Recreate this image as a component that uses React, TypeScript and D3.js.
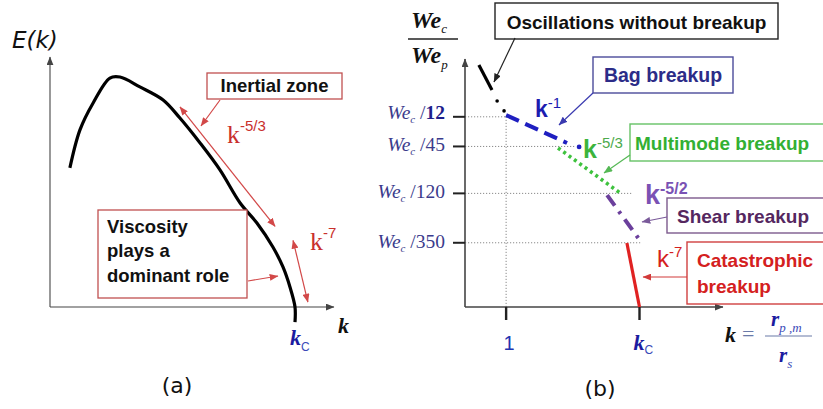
import React from "react";
import * as d3 from "d3";

// ---------- Panel (a): turbulent kinetic energy spectrum E(k), schematic units ----------
const spectrumK = [0.071, 0.107, 0.154, 0.214, 0.25, 0.321, 0.404, 0.464, 0.536, 0.607, 0.679, 0.739, 0.796, 0.832, 0.857, 0.875, 0.875];
const spectrumE = [0.563, 0.717, 0.826, 0.927, 0.931, 0.891, 0.838, 0.765, 0.664, 0.555, 0.421, 0.34, 0.243, 0.162, 0.081, 0.0, -0.061];

// ---------- Panel (b): breakup regimes versus k = r_p,m / r_s ----------
const regimeNames = ["Oscillations without breakup", "Bag breakup", "Multimode breakup", "Shear breakup", "Catastrophic breakup"];
const regimeExponents = ["", "-1", "-5/3", "-5/2", "-7"];
const regimeK0 = [0.054, 0.16, 0.362, 0.553, 0.63];
const regimeK1 = [0.105, 0.397, 0.603, 0.677, 0.679];
const regimeW0 = [0.98, 0.777, 0.644, 0.453, 0.259];
const regimeW1 = [0.879, 0.664, 0.462, 0.275, 0.0];
const transitionDotK = [0.125, 0.152];
const transitionDotW = [0.834, 0.794];
const bagEndDot = [0.444, 0.648];
const weberDivisors = ["12", "45", "120", "350"];
const weberLevels = [0.77, 0.65, 0.46, 0.26];
const kTickValues = [0.16, 0.679];
const kTickLabels = ["1", "kC"];

const SANS = "'Liberation Sans', Arial, sans-serif";
const WIDE = "'DejaVu Sans', Verdana, sans-serif";
const SERIF = "'Liberation Serif', 'Times New Roman', serif";

const RED = "#c9302c";
const RED_LINE = "#d24848";
const GREEN = "#3cb43c";
const PURPLE = "#6b3f9c";

type Pt = [number, number];

function Arrow({ from, to, color, both = false, width = 1.2 }: { from: Pt; to: Pt; color: string; both?: boolean; width?: number }) {
  const id = "ah-" + color.replace("#", "");
  return (
    <line
      x1={from[0]}
      y1={from[1]}
      x2={to[0]}
      y2={to[1]}
      stroke={color}
      strokeWidth={width}
      markerEnd={`url(#${id})`}
      markerStart={both ? `url(#${id})` : undefined}
    />
  );
}

const markerColors = ["#444444", RED_LINE, "#222222", "#3a3ab0", "#55b855", "#7a5a9a", "#d23a3a"];

export default function App() {
  // panel (a) scales
  const xA = d3.scaleLinear().domain([0, 1]).range([50, 330]);
  const yA = d3.scaleLinear().domain([0, 1]).range([307, 60]);
  const spectrum = spectrumK.map((k, i) => [k, spectrumE[i]] as Pt);
  const spectrumPath = d3
    .line<Pt>()
    .x((d) => xA(d[0]))
    .y((d) => yA(d[1]))
    .curve(d3.curveCatmullRom)(spectrum) as string;

  // panel (b) scales
  const xB = d3.scaleLinear().domain([0, 1]).range([465, 722]);
  const yB = d3.scaleLinear().domain([0, 1]).range([307, 60]);
  const seg = (i: number) => ({ x1: xB(regimeK0[i]), y1: yB(regimeW0[i]), x2: xB(regimeK1[i]), y2: yB(regimeW1[i]) });

  const gridX1 = kTickValues[0];
  const gridRightK = [regimeK0[1], regimeK1[1] + 0.03, regimeK1[2] + 0.05, regimeK1[3] + 0.01];

  return (
    <svg width={823} height={409} viewBox="0 0 823 409" style={{ position: "absolute", left: 0, top: 0, background: "#fff" }}>
      <defs>
        {markerColors.map((c) => (
          <marker
            key={c}
            id={"ah-" + c.replace("#", "")}
            viewBox="0 0 10 8"
            refX={9.5}
            refY={4}
            markerWidth={9}
            markerHeight={7}
            markerUnits="userSpaceOnUse"
            orient="auto-start-reverse"
          >
            <path d="M0,0 L10,4 L0,8 Z" fill={c} />
          </marker>
        ))}
      </defs>

      {/* ================= Panel (a) ================= */}
      <g>
        <Arrow from={[xA(0), yA(0)]} to={[xA(0), 57]} color="#444444" width={1.1} />
        <Arrow from={[xA(0), yA(0)]} to={[334, yA(0)]} color="#444444" width={1.1} />
        <text x={12} y={48} fontFamily={WIDE} fontStyle="italic" fontSize={23} fill="#111">
          E(k)
        </text>
        <text x={338} y={333} fontFamily={SERIF} fontStyle="italic" fontWeight="bold" fontSize={22} fill="#111">
          k
        </text>
        <text x={290} y={345} fontFamily={SERIF} fontStyle="italic" fontWeight="bold" fontSize={22} fill="#1c1ca0">
          k
          <tspan dy={6} fontFamily={SANS} fontStyle="normal" fontWeight="normal" fontSize={12} fill="#3a4ab8">
            C
          </tspan>
        </text>

        <path d={spectrumPath} fill="none" stroke="#000" strokeWidth={3.2} strokeLinejoin="round" />

        {/* inertial range annotation */}
        <rect x={207} y={73} width={135} height={26} fill="#fff" stroke="#c05050" strokeWidth={1.3} />
        <text x={274.5} y={92} textAnchor="middle" fontFamily={SANS} fontWeight="bold" fontSize={18.5} fill="#111">
          Inertial zone
        </text>
        <Arrow from={[220, 100]} to={[201, 126]} color={RED_LINE} />
        <Arrow from={[xA(0.464), yA(0.81)]} to={[xA(0.804), yA(0.326)]} color={RED_LINE} both />
        <text x={227} y={143} fontFamily={SERIF} fontSize={26} fill={RED}>
          k
          <tspan dy={-12} fontFamily={SANS} fontSize={15}>
            -5/3
          </tspan>
        </text>

        {/* viscous range annotation */}
        <rect x={98} y={210} width={149} height={88} fill="#fff" stroke="#c05050" strokeWidth={1.3} />
        <text fontFamily={SANS} fontWeight="bold" fontSize={18.5} fill="#111">
          <tspan x={107} y={233}>Viscosity</tspan>
          <tspan x={107} y={257}>plays a</tspan>
          <tspan x={107} y={282}>dominant role</tspan>
        </text>
        <Arrow from={[248, 281]} to={[278, 276]} color={RED_LINE} />
        <Arrow from={[xA(0.868), yA(0.27)]} to={[xA(0.921), yA(0.02)]} color={RED_LINE} both />
        <text x={310} y={250} fontFamily={SERIF} fontSize={26} fill={RED}>
          k
          <tspan dy={-12} fontFamily={SANS} fontSize={15}>
            -7
          </tspan>
        </text>

        <text x={177} y={393} textAnchor="middle" fontFamily={WIDE} fontSize={22} fill="#111">
          (a)
        </text>
      </g>

      {/* ================= Panel (b) ================= */}
      <g>
        {/* dotted guide lines */}
        {weberLevels.map((w, i) => (
          <line
            key={"gh" + i}
            x1={xB(0)}
            x2={xB(gridRightK[i])}
            y1={yB(w)}
            y2={yB(w)}
            stroke="#8a8a8a"
            strokeWidth={1}
            strokeDasharray="1.2 1.8"
          />
        ))}
        <line x1={xB(gridX1)} x2={xB(gridX1)} y1={yB(weberLevels[0])} y2={yB(0)} stroke="#8a8a8a" strokeWidth={1} strokeDasharray="1.2 1.8" />

        {/* axes */}
        <Arrow from={[xB(0), yB(0)]} to={[xB(0), 59]} color="#444444" width={1.6} />
        <Arrow from={[xB(0), yB(0)]} to={[723, yB(0)]} color="#444444" width={1.6} />

        {/* y ticks */}
        {weberLevels.map((w, i) => (
          <g key={"yt" + i}>
            <line x1={xB(0) - 12} x2={xB(0)} y1={yB(w)} y2={yB(w)} stroke="#222" strokeWidth={2} />
            <text x={xB(0) - 20} y={yB(w) + (i === 0 ? 2 : 5)} textAnchor="end" fontFamily={SERIF} fontSize={19.5} fill="#3b3b8c">
              <tspan fontStyle="italic">We</tspan>
              <tspan dy={4} fontStyle="italic" fontSize={11}>c</tspan>
              <tspan dy={-4}> /</tspan>
              <tspan fontWeight={i === 0 ? "bold" : "normal"} fill={i === 0 ? "#1e1e8c" : "#3b3b8c"}>
                {weberDivisors[i]}
              </tspan>
            </text>
          </g>
        ))}

        {/* x ticks */}
        {kTickValues.map((k, i) => (
          <g key={"xt" + i}>
            <line x1={xB(k)} x2={xB(k)} y1={yB(0)} y2={yB(0) + 13} stroke="#222" strokeWidth={2.4} />
            {kTickLabels[i] === "1" ? (
              <text x={xB(k) + 3} y={350} textAnchor="middle" fontFamily={SANS} fontSize={20} fill="#2233b0">
                1
              </text>
            ) : (
              <text x={xB(k) - 6} y={350} fontFamily={SERIF} fontStyle="italic" fontWeight="bold" fontSize={22} fill="#1c1ca0">
                k
                <tspan dy={4} fontFamily={SANS} fontStyle="normal" fontWeight="normal" fontSize={12} fill="#3a4ab8">
                  C
                </tspan>
              </text>
            )}
          </g>
        ))}

        {/* y axis title We_c / We_p */}
        <text x={411} y={28} fontFamily={SERIF} fontStyle="italic" fontWeight="bold" fontSize={24} fill="#111">
          We
          <tspan dy={5} fontSize={13} fontWeight="normal">c</tspan>
        </text>
        <line x1={408} x2={458} y1={39} y2={39} stroke="#222" strokeWidth={1.4} />
        <text x={411} y={63} fontFamily={SERIF} fontStyle="italic" fontWeight="bold" fontSize={24} fill="#111">
          We
          <tspan dy={6} fontSize={13} fontWeight="normal">p</tspan>
        </text>

        {/* x axis title k = r_p,m / r_s */}
        <text x={725} y={342} fontFamily={SERIF} fontStyle="italic" fontWeight="bold" fontSize={22} fill="#111">
          k
        </text>
        <text x={742} y={341} fontFamily={SERIF} fontSize={22} fill="#6a7aa8">
          =
        </text>
        <text x={771} y={326} fontFamily={SERIF} fontStyle="italic" fontWeight="bold" fontSize={21} fill="#1c1ca0">
          r
          <tspan dy={6} fontSize={13} fontWeight="normal" fill="#3a4ab8">p ,m</tspan>
        </text>
        <line x1={765} x2={812} y1={336} y2={336} stroke="#6a7aa8" strokeWidth={1.2} />
        <text x={779} y={362} fontFamily={SERIF} fontStyle="italic" fontWeight="bold" fontSize={21} fill="#1c1ca0">
          r
          <tspan dy={6} fontSize={13} fontWeight="normal" fill="#3a4ab8">s</tspan>
        </text>

        {/* regime 0: oscillations */}
        <line {...seg(0)} stroke="#000" strokeWidth={3.2} />
        {transitionDotK.map((k, i) => (
          <circle key={"td" + i} cx={xB(k)} cy={yB(transitionDotW[i])} r={1.8} fill="#000" />
        ))}
        {/* regime 1: bag */}
        <line {...seg(1)} stroke="#1f1fc0" strokeWidth={4} strokeDasharray="14 7" />
        <circle cx={xB(bagEndDot[0])} cy={yB(bagEndDot[1])} r={2.4} fill="#1f1fc0" />
        {/* regime 2: multimode */}
        <line {...seg(2)} stroke="#3ec23e" strokeWidth={3.6} strokeDasharray="3 3.6" />
        {/* regime 3: shear */}
        <line {...seg(3)} stroke={PURPLE} strokeWidth={4} strokeDasharray="13 7 3 7" />
        {/* regime 4: catastrophic */}
        <line {...seg(4)} stroke="#e02222" strokeWidth={3.2} />

        {/* exponent labels */}
        <text x={535} y={117} fontFamily={SANS} fontWeight="bold" fontSize={23} fill="#1c1cb0">
          k
          <tspan dy={-9} fontWeight="normal" fontSize={15}>
            {regimeExponents[1]}
          </tspan>
        </text>
        <text x={583} y={158} fontFamily={SANS} fontWeight="bold" fontSize={25} fill={GREEN}>
          k
          <tspan dy={-10} fontWeight="normal" fontSize={15} fill="#4caa4c">
            {regimeExponents[2]}
          </tspan>
        </text>
        <text x={645} y={204} fontFamily={SANS} fontWeight="bold" fontSize={27} fill="#7a52b4">
          k
          <tspan dy={-10} fontSize={16}>
            {regimeExponents[3]}
          </tspan>
        </text>
        <text x={657} y={267} fontFamily={SANS} fontSize={24} fill="#d42020">
          k
          <tspan dy={-10} fontSize={15}>
            {regimeExponents[4]}
          </tspan>
        </text>

        {/* regime boxes */}
        <rect x={495} y={3} width={283} height={36} fill="#fff" stroke="#222" strokeWidth={1.4} />
        <text x={636.5} y={29} textAnchor="middle" fontFamily={SANS} fontWeight="bold" fontSize={19} fill="#111">
          {regimeNames[0]}
        </text>
        <Arrow from={[515, 38]} to={[494, 82]} color="#222222" />

        <rect x={593} y={57} width={140} height={36} fill="#fff" stroke="#4b4b9b" strokeWidth={1.4} />
        <text x={663} y={82} textAnchor="middle" fontFamily={SANS} fontWeight="bold" fontSize={19.5} fill="#2c2c88">
          {regimeNames[1]}
        </text>
        <Arrow from={[593, 93]} to={[559, 125]} color="#3a3ab0" />

        <rect x={630} y={124} width={200} height={37} fill="#fff" stroke="#66c266" strokeWidth={1.4} />
        <text x={635} y={150} fontFamily={SANS} fontWeight="bold" fontSize={19} fill="#33b033">
          {regimeNames[2]}
        </text>
        <Arrow from={[630, 155]} to={[604, 173]} color="#55b855" />

        <rect x={667} y={198} width={160} height={35} fill="#fff" stroke="#7d5a8d" strokeWidth={1.4} />
        <text x={677} y={223} fontFamily={SANS} fontWeight="bold" fontSize={19} fill="#55275f">
          {regimeNames[3]}
        </text>
        <Arrow from={[667, 217]} to={[642, 222]} color="#7a5a9a" />

        <rect x={687} y={242} width={140} height={62} fill="#fff" stroke="#d04040" strokeWidth={1.4} />
        <text fontFamily={SANS} fontWeight="bold" fontSize={19} fill="#d42020">
          <tspan x={697} y={267}>Catastrophic</tspan>
          <tspan x={697} y={293}>breakup</tspan>
        </text>
        <Arrow from={[687, 277]} to={[643, 277]} color="#d23a3a" />

        <text x={600} y={396} textAnchor="middle" fontFamily={WIDE} fontSize={22} fill="#111">
          (b)
        </text>
      </g>
    </svg>
  );
}
